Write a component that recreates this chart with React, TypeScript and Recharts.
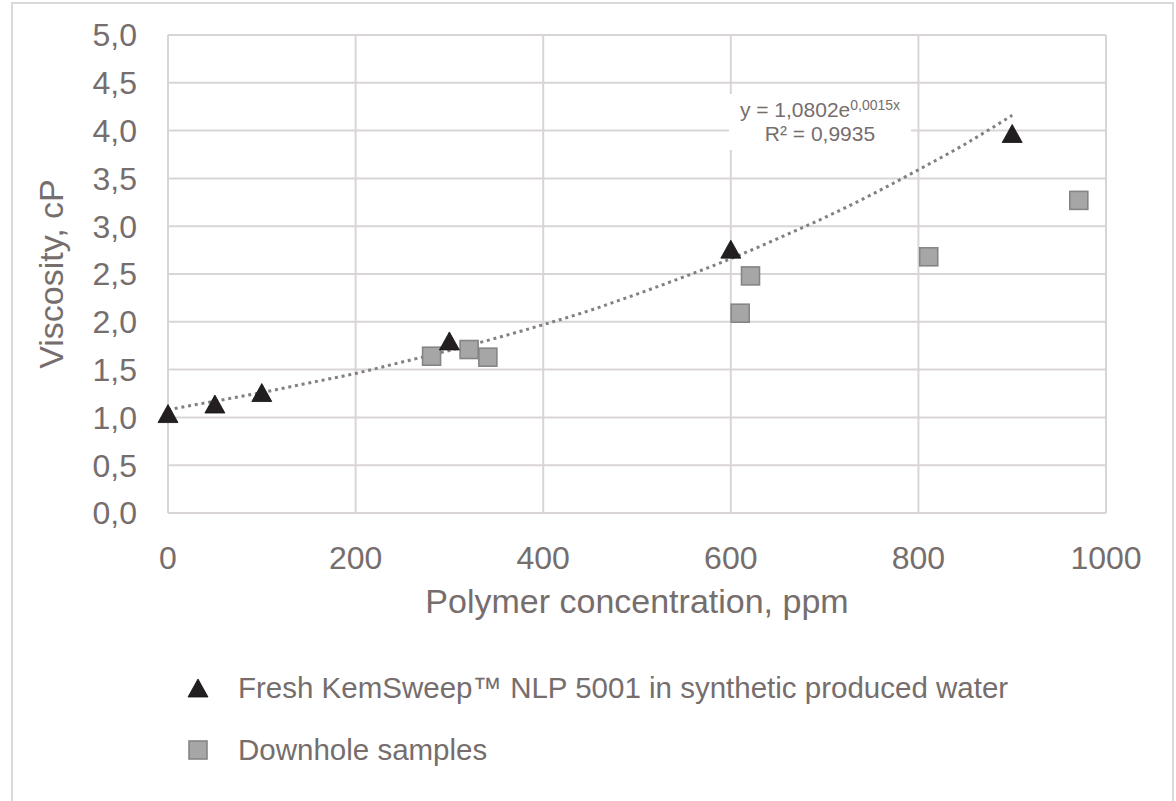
import { ComposedChart, Scatter, Line, XAxis, YAxis, CartesianGrid, Label } from 'recharts'

const xTicks = [0, 200, 400, 600, 800, 1000]
const yTicks = [0, 0.5, 1, 1.5, 2, 2.5, 3, 3.5, 4, 4.5, 5]

const freshName = 'Fresh KemSweep™ NLP 5001 in synthetic produced water'
const freshX = [0, 50, 100, 300, 600, 900]
const freshY = [1.04, 1.14, 1.26, 1.8, 2.76, 3.97]

const downholeName = 'Downhole samples'
const downholeX = [281, 321, 341, 610, 621, 811, 971]
const downholeY = [1.64, 1.71, 1.63, 2.09, 2.48, 2.68, 3.27]

// exponential trendline
const trendX = [0, 50, 100, 150, 200, 250, 300, 350, 400, 450, 500, 550, 600, 650, 700, 750, 800, 850, 900]
const trendY = [1.08, 1.17, 1.26, 1.36, 1.46, 1.58, 1.7, 1.83, 1.97, 2.12, 2.29, 2.47, 2.66, 2.87, 3.09, 3.33, 3.59, 3.86, 4.16]

const trendEquation = 'y = 1,0802e'
const trendExponent = '0,0015x'
const trendR2 = 'R² = 0,9935'

const xTitle = 'Polymer concentration, ppm'
const yTitle = 'Viscosity, cP'

const font = '"Liberation Sans", Arial, sans-serif'
const textColor = '#766d6d'
const gridColor = '#dad5d5'
const triFill = '#231f20'
const sqFill = '#a6a6a6'
const sqStroke = '#858585'

const freshData = freshX.map((x, i) => ({ x, y: freshY[i] }))
const downholeData = downholeX.map((x, i) => ({ x, y: downholeY[i] }))
const trendData = trendX.map((x, i) => ({ x, y: trendY[i] }))

const fmt = (v: number) => v.toFixed(1).replace('.', ',')

// eslint-disable-next-line @typescript-eslint/no-explicit-any
function Triangle({ cx, cy }: any) {
  const w = 20
  const h = 18
  return (
    <path
      d={`M${cx},${cy - h / 2} L${cx + w / 2},${cy + h / 2} L${cx - w / 2},${cy + h / 2} Z`}
      fill={triFill}
      stroke="#111"
      strokeWidth={0.8}
    />
  )
}

// eslint-disable-next-line @typescript-eslint/no-explicit-any
function Square({ cx, cy }: any) {
  const s = 18
  return <rect x={cx - s / 2} y={cy - s / 2} width={s} height={s} fill={sqFill} stroke={sqStroke} strokeWidth={1.6} />
}

// eslint-disable-next-line @typescript-eslint/no-explicit-any
function YTitle({ viewBox }: any) {
  const cx = viewBox.x - 37
  const cy = viewBox.y + viewBox.height / 2
  return (
    <text
      x={cx}
      y={cy}
      transform={`rotate(-90 ${cx} ${cy})`}
      textAnchor="middle"
      dominantBaseline="central"
      fill={textColor}
      fontSize={34}
      fontFamily={font}
    >
      {yTitle}
    </text>
  )
}

export default function App() {
  return (
    <div
      style={{
        position: 'absolute',
        left: 0,
        top: 0,
        width: 1176,
        height: 801,
        background: '#fff',
        overflow: 'hidden',
        fontFamily: font,
      }}
    >
      <div
        style={{
          position: 'absolute',
          left: 11,
          top: 2,
          width: 1159,
          height: 840,
          border: '2px solid #ddd8d8',
        }}
      />
      <div style={{ position: 'absolute', left: 0, top: 0 }}>
        <ComposedChart width={1176} height={801} margin={{ top: 35, right: 70, left: 88, bottom: 248 }}>
          <CartesianGrid stroke={gridColor} strokeWidth={2} />
          <XAxis
            type="number"
            dataKey="x"
            domain={[0, 1000]}
            ticks={xTicks}
            height={40}
            tickLine={false}
            tickSize={0}
            tickMargin={33}
            axisLine={{ stroke: gridColor, strokeWidth: 2 }}
            tick={{ fill: textColor, fontSize: 32, fontFamily: font }}
          >
            <Label
              value={xTitle}
              position="bottom"
              offset={36}
              fill={textColor}
              fontSize={34}
              fontFamily={font}
            />
          </XAxis>
          <YAxis
            type="number"
            dataKey="y"
            domain={[0, 5]}
            ticks={yTicks}
            width={80}
            tickLine={false}
            tickSize={0}
            tickMargin={31}
            tickFormatter={fmt}
            axisLine={{ stroke: gridColor, strokeWidth: 2 }}
            tick={{ fill: textColor, fontSize: 32, fontFamily: font }}
          >
            <Label content={<YTitle />} />
          </YAxis>
          <Scatter name={downholeName} data={downholeData} shape={<Square />} isAnimationActive={false} />
          <Scatter name={freshName} data={freshData} shape={<Triangle />} isAnimationActive={false} />
          <Line
            data={trendData}
            dataKey="y"
            type="monotone"
            stroke="#818181"
            strokeWidth={3}
            strokeDasharray="3 3.8"
            dot={false}
            activeDot={false}
            legendType="none"
            isAnimationActive={false}
          />
        </ComposedChart>
      </div>

      <div
        style={{
          position: 'absolute',
          left: 729,
          top: 94,
          width: 182,
          height: 56,
          background: '#fff',
          color: textColor,
          fontSize: 21,
          lineHeight: '24px',
          textAlign: 'center',
          paddingTop: 4,
          boxSizing: 'border-box',
        }}
      >
        <div>
          {trendEquation}
          <span style={{ fontSize: 14, verticalAlign: 7, lineHeight: '10px' }}>{trendExponent}</span>
        </div>
        <div>{trendR2}</div>
      </div>

      <div style={{ position: 'absolute', left: 186, top: 668, color: textColor, fontSize: 29.5 }}>
        <div style={{ display: 'flex', alignItems: 'center', height: 40 }}>
          <svg width={24} height={24} style={{ marginRight: 28 }}>
            <path d="M12,3 L22,21 L2,21 Z" fill={triFill} stroke="#111" strokeWidth={0.8} />
          </svg>
          <span>{freshName}</span>
        </div>
        <div style={{ display: 'flex', alignItems: 'center', height: 40, marginTop: 22 }}>
          <svg width={24} height={24} style={{ marginRight: 28 }}>
            <rect x={3} y={3} width={18} height={18} fill={sqFill} stroke={sqStroke} strokeWidth={1.6} />
          </svg>
          <span>{downholeName}</span>
        </div>
      </div>
    </div>
  )
}
